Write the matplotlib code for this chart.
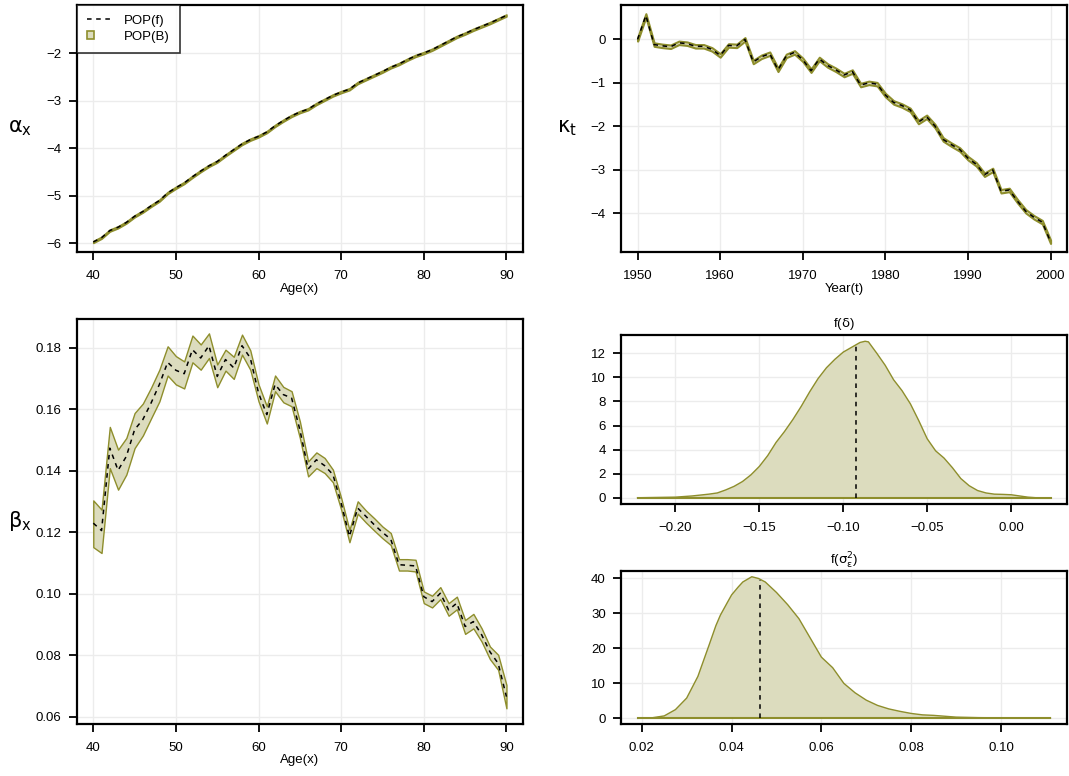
import numpy as np
import matplotlib
matplotlib.use("Agg")
import matplotlib.pyplot as plt
from matplotlib.lines import Line2D
from matplotlib.patches import Patch, Rectangle
from matplotlib.legend_handler import HandlerPatch

plt.rcParams['font.family'] = ['Liberation Sans', 'DejaVu Sans']
plt.rcParams['mathtext.fontset'] = 'dejavusans'

EDGE = '#8e8e2c'
FILL = '#dcdcbe'
GRID = '#ececec'

# ---- data ----
ages = list(range(40, 91))
alpha_x = [-5.97, -5.88, -5.73, -5.66, -5.56, -5.43, -5.33, -5.21, -5.10, -4.94,
           -4.83, -4.73, -4.60, -4.48, -4.37, -4.28, -4.15, -4.03, -3.91, -3.82,
           -3.75, -3.66, -3.53, -3.42, -3.32, -3.24, -3.18, -3.07, -2.98, -2.89,
           -2.82, -2.76, -2.63, -2.55, -2.47, -2.39, -2.30, -2.23, -2.14, -2.06,
           -2.00, -1.93, -1.84, -1.75, -1.66, -1.59, -1.51, -1.44, -1.37, -1.29,
           -1.21]
alpha_halfwidth = 0.02

years = list(range(1950, 2001))
kappa_t = [0.00, 0.55, -0.12, -0.15, -0.17, -0.08, -0.10, -0.16, -0.16, -0.23,
           -0.37, -0.14, -0.15, 0.00, -0.52, -0.40, -0.33, -0.70, -0.38, -0.30,
           -0.47, -0.72, -0.45, -0.60, -0.70, -0.82, -0.74, -1.05, -1.00, -1.03,
           -1.28, -1.45, -1.52, -1.62, -1.90, -1.78, -1.99, -2.30, -2.42, -2.53,
           -2.73, -2.87, -3.11, -3.00, -3.49, -3.46, -3.72, -3.95, -4.09, -4.20,
           -4.65]
kappa_halfwidth = 0.04

beta_x = [0.1229, 0.1205, 0.1473, 0.1401, 0.1446, 0.1533, 0.1566, 0.1620, 0.1680, 0.1752,
          0.1726, 0.1715, 0.1793, 0.1766, 0.1806, 0.1706, 0.1761, 0.1734, 0.1806, 0.1766,
          0.1652, 0.1582, 0.1680, 0.1647, 0.1636, 0.1533, 0.1405, 0.1435, 0.1416, 0.1387,
          0.1294, 0.1186, 0.1278, 0.1251, 0.1224, 0.1199, 0.1177, 0.1094, 0.1092, 0.1090,
          0.0990, 0.0974, 0.1001, 0.0947, 0.0969, 0.0893, 0.0909, 0.0866, 0.0811, 0.0773,
          0.0665]
beta_hi = [0.1303, 0.1273, 0.1542, 0.1468, 0.1506, 0.1587, 0.1618, 0.1670, 0.1728, 0.1804,
           0.1772, 0.1755, 0.1839, 0.1810, 0.1846, 0.1745, 0.1793, 0.1770, 0.1842, 0.1791,
           0.1680, 0.1609, 0.1709, 0.1672, 0.1658, 0.1560, 0.1430, 0.1459, 0.1441, 0.1403,
           0.1311, 0.1207, 0.1300, 0.1270, 0.1245, 0.1218, 0.1197, 0.1112, 0.1112, 0.1110,
           0.1007, 0.0993, 0.1021, 0.0969, 0.0990, 0.0914, 0.0934, 0.0887, 0.0828, 0.0801,
           0.0703]
beta_lo = [0.1151, 0.1132, 0.1408, 0.1338, 0.1387, 0.1473, 0.1514, 0.1570, 0.1625, 0.1709,
           0.1680, 0.1667, 0.1752, 0.1728, 0.1766, 0.1671, 0.1725, 0.1698, 0.1777, 0.1728,
           0.1625, 0.1553, 0.1658, 0.1622, 0.1609, 0.1506, 0.1381, 0.1408, 0.1392, 0.1362,
           0.1273, 0.1167, 0.1260, 0.1231, 0.1205, 0.1180, 0.1158, 0.1075, 0.1075, 0.1072,
           0.0969, 0.0955, 0.0982, 0.0928, 0.0949, 0.0869, 0.0887, 0.0844, 0.0787, 0.0752,
           0.0627]

delta_x = [-0.2225, -0.20, -0.19, -0.18, -0.175, -0.17, -0.165, -0.16, -0.155, -0.15,
           -0.145, -0.14, -0.135, -0.13, -0.125, -0.12, -0.115, -0.11, -0.105, -0.10,
           -0.095, -0.09, -0.087, -0.085, -0.08, -0.075, -0.07, -0.065, -0.06, -0.055,
           -0.05, -0.045, -0.04, -0.035, -0.03, -0.025, -0.02, -0.015, -0.01, -0.005,
           0.0, 0.005, 0.01, 0.015, 0.0235]
delta_f = [0.0, 0.05, 0.15, 0.30, 0.40, 0.65, 0.95, 1.35, 1.90, 2.60,
           3.50, 4.60, 5.50, 6.50, 7.60, 8.80, 9.90, 10.8, 11.5, 12.1,
           12.5, 12.9, 13.0, 12.95, 12.0, 11.0, 9.80, 8.90, 7.80, 6.40,
           4.90, 3.90, 3.30, 2.50, 1.60, 1.00, 0.60, 0.40, 0.30, 0.28,
           0.25, 0.15, 0.05, 0.0, 0.0]
delta_mean = -0.0927
delta_mean_f = 12.7

sig_x = [0.0191, 0.022, 0.025, 0.0275, 0.03, 0.0325, 0.035, 0.0365, 0.0375, 0.039,
         0.04, 0.0415, 0.0425, 0.0445, 0.046, 0.0475, 0.05, 0.0525, 0.055, 0.0575,
         0.06, 0.0625, 0.065, 0.0675, 0.07, 0.0725, 0.075, 0.0775, 0.08, 0.0825,
         0.085, 0.0875, 0.09, 0.095, 0.10, 0.105, 0.111]
sig_f = [0.0, 0.1, 0.7, 2.5, 5.8, 12.0, 21.0, 26.5, 29.5, 33.0,
         35.3, 37.6, 39.0, 40.5, 40.0, 39.0, 36.0, 32.5, 28.5, 23.0,
         17.5, 14.5, 10.0, 7.3, 5.2, 3.7, 2.7, 2.0, 1.4, 1.0,
         0.85, 0.6, 0.35, 0.2, 0.15, 0.1, 0.05]
sig_mean = 0.0464
sig_mean_f = 39.6

DASH = (0, (3, 3))


def style(ax):
    ax.grid(True, color=GRID, lw=1)
    ax.set_axisbelow(True)
    for s in ax.spines.values():
        s.set_linewidth(1.6)
    ax.tick_params(direction='out', length=6, width=1.3, labelsize=9.5)
    ax.tick_params(axis='x', pad=7)
    ax.tick_params(axis='y', pad=5)


def small_square(legend, orig_handle, xdescent, ydescent, width, height, fontsize):
    s = 0.8 * height
    return Rectangle((-xdescent, -ydescent + (height - s) / 2), s, s)


fig = plt.figure(figsize=(10.69, 7.76), dpi=100)
ax1 = fig.add_axes([0.0718, 0.6753, 0.4174, 0.3183])
ax2 = fig.add_axes([0.581, 0.6753, 0.4172, 0.3183])
ax3 = fig.add_axes([0.0718, 0.067, 0.4174, 0.522])
ax4 = fig.add_axes([0.581, 0.3505, 0.4172, 0.2178])
ax5 = fig.add_axes([0.581, 0.067, 0.4172, 0.197])

# alpha_x
a = np.array(alpha_x)
ax1.fill_between(ages, a - alpha_halfwidth, a + alpha_halfwidth, facecolor=FILL, edgecolor=EDGE, lw=1.2)
ax1.plot(ages, alpha_x, color='black', ls=DASH, lw=1.1)
ax1.set_xlim(38, 92)
ax1.set_ylim(-6.18, -0.99)
ax1.set_xticks([40, 50, 60, 70, 80, 90])
ax1.set_yticks([-6, -5, -4, -3, -2])
ax1.set_yticklabels(['\u22126', '\u22125', '\u22124', '\u22123', '\u22122'])
ax1.set_xlabel('Age(x)', fontsize=9.5, labelpad=1)
ax1.set_ylabel(r'$\mathrm{\alpha_x}$', fontsize=15, rotation=0, ha='center', va='center')
ax1.yaxis.set_label_coords(-0.127, 0.5)
style(ax1)
handles = [Line2D([0], [0], color='black', ls=DASH, lw=1.1),
           Patch(facecolor=FILL, edgecolor=EDGE, lw=1.2)]
leg = ax1.legend(handles, ['POP(f)', 'POP(B)'], loc='upper left', fontsize=9.5,
                 frameon=True, fancybox=False, borderaxespad=0, handlelength=2.0,
                 handletextpad=0.85, borderpad=0.75, labelspacing=0.25,
                 handler_map={Patch: HandlerPatch(patch_func=small_square)})
leg.get_frame().set_edgecolor('black')
leg.get_frame().set_linewidth(1.2)

# kappa_t
k = np.array(kappa_t)
ax2.fill_between(years, k - kappa_halfwidth, k + kappa_halfwidth, facecolor=FILL, edgecolor=EDGE, lw=1.5)
ax2.plot(years, kappa_t, color='black', ls=DASH, lw=1.1)
ax2.set_xlim(1948, 2002)
ax2.set_ylim(-4.885, 0.79)
ax2.set_xticks([1950, 1960, 1970, 1980, 1990, 2000])
ax2.set_yticks([-4, -3, -2, -1, 0])
ax2.set_yticklabels(['\u22124', '\u22123', '\u22122', '\u22121', '0'])
ax2.set_xlabel('Year(t)', fontsize=9.5, labelpad=1)
ax2.set_ylabel(r'$\mathrm{\kappa_t}$', fontsize=15, rotation=0, ha='center', va='center')
ax2.yaxis.set_label_coords(-0.121, 0.5)
style(ax2)

# beta_x
ax3.fill_between(ages, beta_lo, beta_hi, facecolor=FILL, edgecolor=EDGE, lw=1.0)
ax3.plot(ages, beta_x, color='black', ls=DASH, lw=1.1)
ax3.set_xlim(38, 92)
ax3.set_ylim(0.0576, 0.1893)
ax3.set_xticks([40, 50, 60, 70, 80, 90])
ax3.set_yticks([0.06, 0.08, 0.10, 0.12, 0.14, 0.16, 0.18])
ax3.set_yticklabels(['0.06', '0.08', '0.10', '0.12', '0.14', '0.16', '0.18'])
ax3.set_xlabel('Age(x)', fontsize=9.5, labelpad=0)
ax3.set_ylabel(r'$\mathrm{\beta_x}$', fontsize=15, rotation=0, ha='center', va='center')
ax3.yaxis.set_label_coords(-0.127, 0.5)
style(ax3)

# f(delta)
ax4.fill_between(delta_x, 0, delta_f, facecolor=FILL, edgecolor='none')
ax4.plot(delta_x, delta_f, color=EDGE, lw=1.0)
ax4.plot([delta_x[0], delta_x[-1]], [0, 0], color=EDGE, lw=1.5)
ax4.plot([delta_mean, delta_mean], [0, delta_mean_f], color='black', ls=DASH, lw=1.1)
ax4.set_xlim(-0.2323, 0.0333)
ax4.set_ylim(-0.52, 13.52)
ax4.set_xticks([-0.20, -0.15, -0.10, -0.05, 0.00])
ax4.set_xticklabels(['\u22120.20', '\u22120.15', '\u22120.10', '\u22120.05', '0.00'])
ax4.set_yticks([0, 2, 4, 6, 8, 10, 12])
ax4.set_title(r'f($\mathrm{\delta}$)', fontsize=9.5, pad=6)
style(ax4)

# f(sigma^2)
ax5.fill_between(sig_x, 0, sig_f, facecolor=FILL, edgecolor='none')
ax5.plot(sig_x, sig_f, color=EDGE, lw=1.0)
ax5.plot([sig_x[0], sig_x[-1]], [0, 0], color=EDGE, lw=1.5)
ax5.plot([sig_mean, sig_mean], [0, sig_mean_f], color='black', ls=DASH, lw=1.1)
ax5.set_xlim(0.0154, 0.1147)
ax5.set_ylim(-1.62, 42.1)
ax5.set_xticks([0.02, 0.04, 0.06, 0.08, 0.10])
ax5.set_xticklabels(['0.02', '0.04', '0.06', '0.08', '0.10'])
ax5.set_yticks([0, 10, 20, 30, 40])
ax5.set_title(r'f($\mathrm{\sigma^2_\epsilon}$)', fontsize=9.5, pad=4)
style(ax5)

fig.savefig('out.png', dpi=100)
